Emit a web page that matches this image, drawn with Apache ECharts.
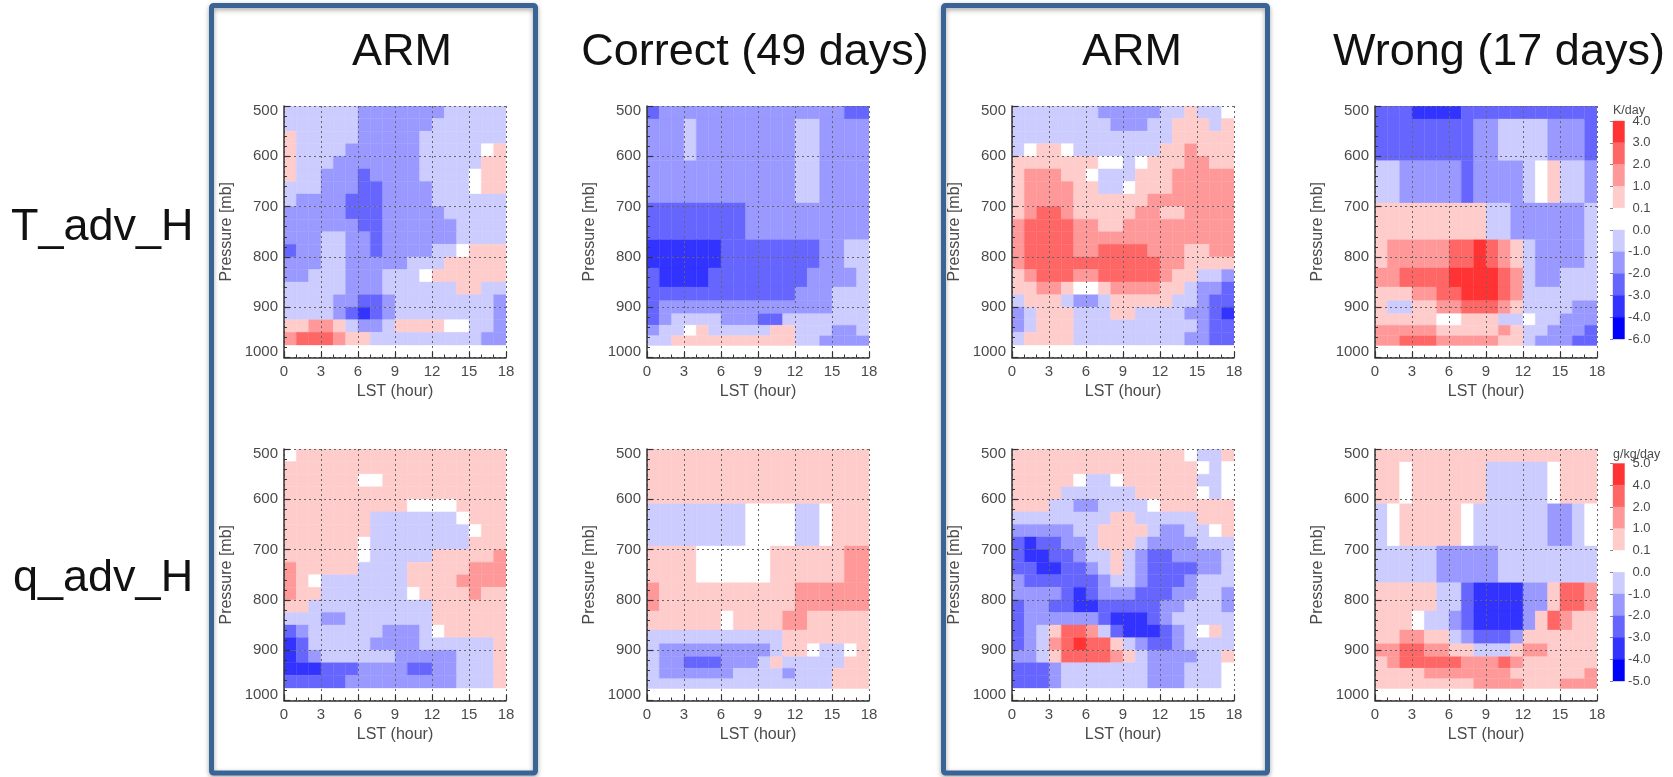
<!DOCTYPE html>
<html><head><meta charset="utf-8">
<script src="https://cdn.jsdelivr.net/npm/echarts@6/dist/echarts.min.js"></script>
<style>html,body{margin:0;padding:0;background:#fff}#c{width:1673px;height:777px;filter:blur(0.5px)}</style>
</head><body><div id="c"></div>
<script>
// Pressure level edges (mb)
const armLevels = [500,525,550,575,600,625,650,675,700,725,750,775,800,825,850,875,900,925,950,975];
const modelLevels = [500,526,609,693,766,822,860,887,913,936,957,976];
// Each number is the colour-bar bin a cell falls in: negative = blue bins, positive = red bins, 0 = white bin
const tAdvArmA = [
[-1,-1,-1,-1,-1,-1,-2,-2,-2,-2,-2,-2,-2,-1,-1,-1,-1,-1],
[-1,-1,-1,-1,-1,-1,-2,-2,-2,-2,-2,-2,-1,-1,-1,-1,-1,-1],
[1,-1,-1,-1,-1,-1,-2,-2,-2,-2,-2,-1,-1,-1,-1,-1,-1,-1],
[1,-1,-1,-1,-1,-2,-2,-2,-2,-2,-2,-1,-1,-1,-1,-1,0,1],
[1,-1,-1,-1,-2,-2,-2,-2,-2,-2,-2,-1,-1,-1,-1,-1,1,1],
[1,-1,-1,-2,-2,-2,-3,-2,-2,-2,-2,-1,-1,-1,-1,0,1,1],
[-1,-1,-1,-2,-2,-2,-3,-3,-2,-2,-2,-2,-1,-1,-1,0,1,1],
[-1,-2,-2,-2,-2,-3,-3,-3,-2,-2,-2,-2,-1,-1,-1,-1,-1,-1],
[-2,-2,-2,-2,-2,-3,-3,-3,-2,-2,-2,-2,-2,-1,-1,-1,-1,-1],
[-2,-2,-2,-2,-2,-2,-3,-3,-2,-2,-2,-2,-2,-2,-1,-1,-1,-1],
[-2,-2,-2,-1,-1,-2,-2,-3,-2,-2,-2,-2,-2,-2,-1,-1,-1,-1],
[-3,-2,-2,-1,-1,-2,-2,-3,-2,-2,-2,-2,-1,-1,0,1,1,1],
[-2,-2,-2,-1,-1,-2,-2,-2,-2,-2,-1,-1,-1,1,1,1,1,1],
[-2,-2,-1,-1,-1,-2,-2,-2,-1,-1,-1,0,1,1,1,1,1,1],
[-1,-1,-1,-1,-1,-2,-2,-2,-1,-1,-1,-1,-1,-1,1,1,-1,-1],
[-1,-1,-1,-1,-2,-2,-3,-3,-2,-1,-1,-1,-1,-1,-1,-1,-1,-2],
[-1,-1,-1,-1,-2,-3,-4,-3,-2,-1,-1,-1,-1,-1,-1,-1,-1,-2],
[1,1,2,2,1,-1,-2,-2,-1,1,1,1,1,0,0,-1,-1,-2],
[2,3,3,3,2,1,1,-1,-1,-1,-1,-1,-1,-1,-1,-1,-2,-2]
];
const tAdvCorrect = [
[-3,-2,-2,-2,-2,-2,-2,-2,-2,-2,-2,-2,-2,-2,-2,-2,-3,-3],
[-2,-2,-2,-1,-2,-2,-2,-2,-2,-2,-2,-2,-1,-1,-2,-2,-2,-2],
[-2,-2,-2,-2,-2,-2,-2,-2,-2,-2,-2,-2,-1,-1,-2,-2,-2,-2],
[-3,-3,-3,-3,-3,-3,-3,-3,-2,-2,-2,-2,-2,-2,-2,-2,-2,-2],
[-4,-4,-4,-4,-4,-4,-3,-3,-3,-3,-3,-3,-3,-3,-2,-2,-1,-1],
[-3,-4,-4,-4,-4,-3,-3,-3,-3,-3,-3,-3,-3,-2,-2,-2,-2,-1],
[-3,-3,-3,-3,-3,-3,-3,-3,-3,-3,-3,-3,-2,-2,-2,-1,-1,-1],
[-3,-2,-2,-2,-2,-2,-2,-2,-2,-2,-2,-2,-2,-2,-2,-1,-1,-1],
[-3,-2,-1,-1,-1,-1,-2,-2,-2,-3,-3,-1,-1,-1,-1,-1,-1,-1],
[-2,-1,-1,0,1,-1,-1,-1,-1,-1,1,1,-1,-1,-1,-2,-2,-1],
[-1,-1,1,1,1,1,1,1,1,1,1,1,-1,-1,-2,-2,-2,-2]
];
const tAdvArmB = [
[-1,-1,-1,-1,-1,-1,-1,-2,-2,-2,-2,-2,-1,-1,1,-1,-1,0],
[-1,-1,-1,-1,-1,-1,-1,-1,-2,-2,-2,-1,-1,1,1,1,-1,1],
[-1,-1,-1,-1,-1,-1,-1,-1,-1,-1,-1,-1,-1,1,1,1,1,1],
[-1,0,1,1,0,-1,-1,-1,-1,-1,-1,-1,1,1,2,1,1,1],
[1,1,1,1,1,1,1,0,0,-1,0,1,1,1,2,2,1,1],
[1,2,2,2,1,1,0,-1,-1,-1,1,1,1,2,2,2,2,2],
[1,2,2,2,2,1,1,-1,-1,0,1,1,1,2,2,2,2,2],
[1,2,2,2,2,1,1,1,1,1,1,2,2,2,2,2,2,2],
[1,2,3,3,2,1,1,1,1,1,2,2,1,1,2,2,2,2],
[2,3,3,3,3,2,2,1,1,2,2,2,2,2,2,2,2,2],
[2,3,3,3,3,2,2,2,2,2,2,2,2,2,2,2,2,2],
[2,3,3,3,3,2,2,3,3,3,3,2,2,2,1,1,2,2],
[2,3,3,3,3,3,3,3,3,3,3,3,2,2,1,1,1,1],
[1,2,3,3,3,2,2,3,3,3,3,3,2,1,1,-1,-1,-2],
[1,1,2,2,1,0,0,1,2,2,2,2,1,1,-1,-2,-2,-3],
[-1,1,1,1,-1,-2,-2,-1,1,1,1,1,1,-1,-1,-2,-3,-3],
[-2,-1,1,1,1,-1,-1,-1,1,1,-1,-1,-1,-1,-2,-2,-3,-4],
[-2,-1,1,1,1,-1,-1,-1,-1,-1,-1,-1,-1,-1,-1,-2,-3,-3],
[-1,1,1,1,1,-1,-1,-1,-1,-1,-1,-1,-1,-1,-2,-2,-3,-3]
];
const tAdvWrong = [
[-3,-3,-3,-4,-4,-4,-4,-3,-3,-3,-3,-3,-3,-3,-3,-3,-3,-3],
[-3,-3,-3,-3,-3,-3,-3,-3,-2,-2,-1,-1,-1,-1,-2,-2,-2,-3],
[-1,-1,-2,-2,-2,-2,-2,-3,-2,-2,-2,-2,-1,0,1,-1,-1,-2],
[1,1,1,1,1,1,1,1,1,-1,-1,-2,-2,-2,-2,-2,-2,-1],
[1,2,2,2,2,2,3,3,4,3,2,1,-1,-2,-2,-2,-2,-1],
[2,2,3,3,3,3,4,4,4,4,3,2,-1,-2,-2,-1,-1,-1],
[1,1,1,2,2,3,3,4,4,4,3,2,-1,-1,-1,-1,-1,-1],
[1,-1,-1,1,1,2,2,3,3,3,2,1,-1,-1,-1,-1,-2,-2],
[1,1,1,1,1,0,0,1,1,1,-1,-1,0,-1,-1,-2,-2,-2],
[2,2,2,2,2,1,1,1,1,1,2,1,-1,-1,-2,-2,-2,-3],
[2,2,3,3,3,2,2,2,2,2,1,1,-1,-2,-2,-2,-3,-3]
];
const qAdvArmA = [
[0,1,1,1,1,1,1,1,1,1,1,1,1,1,1,1,1,1],
[1,1,1,1,1,1,1,1,1,1,1,1,1,1,1,1,1,1],
[1,1,1,1,1,1,0,0,1,1,1,1,1,1,1,1,1,1],
[1,1,1,1,1,1,1,1,1,1,1,1,1,1,1,1,1,1],
[1,1,1,1,1,1,1,1,1,1,0,0,0,0,1,1,1,1],
[1,1,1,1,1,1,1,-1,-1,-1,-1,-1,-1,-1,0,1,1,1],
[1,1,1,1,1,1,1,-1,-1,-1,-1,-1,-1,-1,-1,0,1,1],
[1,1,1,1,1,1,0,-1,-1,-1,-1,-1,-1,-1,-1,1,1,1],
[1,1,1,1,1,1,0,-1,-1,-1,-1,-1,1,1,1,1,1,2],
[2,1,1,1,1,1,-1,-1,-1,-1,1,1,1,1,1,2,2,2],
[2,1,0,-1,-1,-1,-1,-1,-1,-1,1,1,1,1,2,2,2,2],
[2,1,1,-1,-1,-1,-1,-1,-1,-1,0,1,1,1,1,2,1,1],
[1,1,-1,-1,-1,-1,-1,-1,-1,-1,-1,-1,1,1,1,1,1,1],
[-1,-1,-1,-2,-2,-1,-1,-1,-1,-1,-1,-1,1,1,1,1,1,1],
[-3,-2,-1,-1,-1,-1,-1,-1,-2,-2,-2,-1,0,1,1,1,1,1],
[-4,-3,-1,-1,-1,-1,-1,-2,-2,-2,-2,-1,-1,-1,-1,-1,-1,1],
[-4,-3,-2,-1,-1,-1,-1,-1,-1,-2,-2,-2,-2,-2,-1,-1,-1,1],
[-4,-4,-4,-3,-3,-3,-2,-2,-2,-2,-3,-3,-2,-2,-1,-1,-1,1],
[-3,-3,-3,-3,-3,-2,-2,-2,-2,-2,-2,-2,-2,-2,-1,-1,-1,1]
];
const qAdvCorrect = [
[1,1,1,1,1,1,1,1,1,1,1,1,1,1,1,1,1,1],
[1,1,1,1,1,1,1,1,1,1,1,1,1,1,1,1,1,1],
[-1,-1,-1,-1,-1,-1,-1,-1,0,0,0,0,-1,-1,0,1,1,1],
[1,1,1,1,0,0,0,0,0,0,1,1,1,1,1,1,2,2],
[2,1,1,1,1,1,1,1,1,1,1,1,2,2,2,2,2,2],
[1,1,1,1,1,1,0,1,1,1,1,2,2,1,1,1,1,1],
[-1,-1,-1,-1,-1,-1,-1,-1,-1,-1,-1,1,1,1,1,1,1,1],
[-1,-2,-2,-2,-2,-2,-2,-2,-2,-2,-1,1,1,0,-1,-1,0,1],
[-1,-2,-2,-3,-3,-3,-2,-2,-2,-1,1,-1,-1,-1,-1,-1,1,1],
[-1,-2,-2,-2,-2,-2,-2,-1,-1,-1,-1,-2,-1,-1,-1,1,1,1],
[-1,-1,-1,-1,-1,-1,-1,-1,-1,-1,-1,-1,-1,-1,-1,1,1,1]
];
const qAdvArmB = [
[1,1,1,1,1,1,1,1,1,1,1,1,1,1,0,-1,-1,1],
[1,1,1,1,1,1,1,1,1,1,1,1,1,1,1,0,-1,0],
[1,1,1,1,1,0,-1,-1,0,1,1,1,1,1,1,-1,-1,0],
[1,1,1,1,-1,-1,-1,-1,-1,-1,1,1,1,1,1,0,-1,0],
[1,1,1,-1,-1,-2,-2,-1,-1,-1,-1,0,1,1,1,1,1,1],
[-1,-1,-1,-1,-1,-1,-1,-1,1,1,-1,-1,-1,-1,-1,1,1,1],
[-2,-2,-2,-2,-2,-1,-1,1,1,1,1,-1,-2,-2,-1,-1,0,1],
[-3,-4,-3,-3,-2,-2,-1,1,1,1,-1,-2,-2,-2,-2,-1,-1,-1],
[-3,-4,-4,-3,-3,-2,-1,-1,1,-1,-2,-3,-3,-2,-2,-2,-2,-1],
[-3,-3,-4,-4,-3,-3,-2,-1,1,-1,-2,-3,-3,-3,-3,-2,-2,-1],
[-2,-3,-3,-3,-3,-3,-3,-2,-1,-1,-2,-3,-3,-3,-2,-1,-1,-1],
[-2,-2,-2,-2,-3,-4,-3,-2,-2,-2,-3,-3,-3,-2,-2,-1,-1,-2],
[-3,-2,-2,-3,-3,-4,-4,-3,-3,-3,-3,-3,-2,-2,-1,-1,-1,-2],
[-3,-2,-2,-2,-2,-2,-2,-3,-4,-4,-4,-3,-2,-1,-1,-1,-1,-1],
[-3,-2,-1,1,3,3,2,-1,-3,-4,-4,-4,-3,-2,-1,0,1,-1],
[-3,-2,-1,2,3,4,3,3,1,-1,-2,-3,-3,-2,-1,-1,-1,-1],
[-2,-2,-1,1,3,3,3,3,2,1,-1,-2,-2,-2,-2,-1,-1,1],
[-3,-3,-3,-2,-1,-1,-1,-1,-1,-1,-1,-2,-2,-2,-1,-1,-1,0],
[-3,-3,-3,-2,-1,-1,-1,-1,-1,-1,-1,-2,-2,-2,-1,-1,-1,0]
];
const qAdvWrong = [
[1,1,1,1,1,1,1,1,1,1,1,1,1,1,1,1,1,1],
[1,1,0,1,1,1,1,1,1,-1,-1,-1,-1,-1,0,1,1,1],
[-1,0,1,1,1,1,1,0,-1,-1,-1,-1,-1,-1,-2,-2,-1,0],
[-1,-1,-1,-1,-1,-2,-2,-2,-2,-2,-1,-1,-1,-1,-1,-1,-1,-1],
[1,1,1,1,1,-1,-1,-3,-4,-4,-4,-4,-2,-2,1,3,3,2],
[1,1,1,0,-1,-1,-2,-3,-4,-4,-4,-4,-2,1,3,2,1,1],
[1,1,2,2,1,1,-1,-2,-3,-3,-3,-2,1,1,1,1,1,1],
[2,2,3,3,2,2,1,1,-1,-1,-1,1,2,2,1,1,1,1],
[1,2,3,3,3,3,3,2,2,2,3,2,1,1,1,1,1,1],
[1,1,1,1,2,2,2,2,2,2,2,1,1,1,1,1,1,2],
[1,1,1,1,1,1,1,1,2,2,2,2,1,1,1,2,2,2]
];
// Colour bars
const tBarLabels = ['4.0','3.0','2.0','1.0','0.1','0.0','-1.0','-2.0','-3.0','-4.0','-6.0'];
const qBarLabels = ['5.0','4.0','2.0','1.0','0.1','0.0','-1.0','-2.0','-3.0','-4.0','-5.0'];
const barBins = [4,3,2,1,0,-1,-2,-3,-4,-5];
const binColors = {'4':'#ff3333','3':'#ff6666','2':'#ff9999','1':'#ffcccc','0':'#ffffff','-1':'#ccccff','-2':'#9999ff','-3':'#6666ff','-4':'#3333ff','-5':'#0000ff'};

const panels = [
  {rows:tAdvArmA,levels:armLevels,left:284,top:106},
  {rows:tAdvCorrect,levels:modelLevels,left:647,top:106},
  {rows:tAdvArmB,levels:armLevels,left:1012,top:106},
  {rows:tAdvWrong,levels:modelLevels,left:1375,top:106},
  {rows:qAdvArmA,levels:armLevels,left:284,top:449},
  {rows:qAdvCorrect,levels:modelLevels,left:647,top:449},
  {rows:qAdvArmB,levels:armLevels,left:1012,top:449},
  {rows:qAdvWrong,levels:modelLevels,left:1375,top:449}
];
const bars = [
  {labels:tBarLabels,top:121,height:218,unit:'K/day',unitY:111},
  {labels:qBarLabels,top:463.5,height:217.5,unit:'g/kg/day',unitY:454.5}
];
const textColor = '#4a4a4a', font = '"Liberation Sans",Arial,sans-serif';

function renderCell(params, api){
  const a = api.coord([api.value(0), api.value(2)]);
  const b = api.coord([api.value(1), api.value(3)]);
  const fill = binColors[String(api.value(4))];
  return {type:'rect', shape:{x:a[0],y:a[1],width:b[0]-a[0],height:b[1]-a[1]},
    style:{fill:fill, stroke:fill, lineWidth:0.4}};
}
const grid=[], xAxis=[], yAxis=[], series=[];
panels.forEach((p,i)=>{
  grid.push({left:p.left, top:p.top, width:222, height:251.5});
  const labelStyle = {color:textColor,fontFamily:font,fontSize:15};
  const dot = {show:true,lineStyle:{color:'#666',width:1,type:[2,3]}};
  const edgeText = {fontFamily:font,fontSize:15,color:textColor};
  xAxis.push({gridIndex:i,type:'value',min:0,max:18,interval:3,z:10,
    axisLine:{show:true,onZero:false,lineStyle:{color:'#333',width:1.5}},
    axisTick:{show:true,inside:true,length:6,lineStyle:{color:'#333',width:1.2}},
    minorTick:{show:true,splitNumber:3,length:3,lineStyle:{color:'#333',width:1}},
    splitLine:dot,
    axisLabel:{...labelStyle,margin:7,showMinLabel:true,showMaxLabel:true},
    name:'LST (hour)',nameLocation:'middle',nameGap:26,
    nameTextStyle:{color:textColor,fontFamily:font,fontSize:16}});
  yAxis.push({gridIndex:i,type:'value',min:500,max:1000,interval:100,inverse:true,z:10,
    axisLine:{show:true,onZero:false,lineStyle:{color:'#333',width:1.5}},
    axisTick:{show:true,inside:true,length:6,lineStyle:{color:'#333',width:1.2}},
    minorTick:{show:true,splitNumber:5,length:3,lineStyle:{color:'#333',width:1}},
    splitLine:dot,
    axisLabel:{...labelStyle,margin:6,showMinLabel:true,showMaxLabel:true,
      formatter:(v)=> v===500 ? '{low|500}' : v===1000 ? '{high|1000}' : String(v),
      rich:{low:{...edgeText,padding:[9.5,0,0,0]},high:{...edgeText,padding:[0,0,10.5,0]}}},
    name:'Pressure [mb]',nameLocation:'middle',nameGap:49,nameRotate:90,
    nameTextStyle:{color:textColor,fontFamily:font,fontSize:16}});
  const data=[];
  p.rows.forEach((row,r)=>row.forEach((v,c)=>{
    data.push([c,c+1,p.levels[r],p.levels[r+1]!==undefined?p.levels[r+1]:p.levels[r],v]);
  }));
  series.push({type:'custom',xAxisIndex:i,yAxisIndex:i,renderItem:renderCell,silent:true,
    encode:{x:[0,1],y:[2,3]},clip:true,data:data,animation:false});
});
bars.forEach((b,j)=>{
  const i=panels.length+j;
  grid.push({left:1613,top:b.top,width:11.5,height:b.height});
  xAxis.push({gridIndex:i,type:'value',min:0,max:1,show:false});
  yAxis.push({gridIndex:i,type:'value',min:0,max:10,interval:1,inverse:true,position:'right',z:10,
    axisLine:{show:false},splitLine:{show:false},
    axisTick:{show:true,inside:true,length:3,lineStyle:{color:'#888',width:1}},
    axisLabel:{color:textColor,fontFamily:font,fontSize:13,align:'right',margin:26,padding:[4,0,0,0],
      formatter:(v)=>b.labels[v]}});
  series.push({type:'custom',xAxisIndex:i,yAxisIndex:i,renderItem:renderCell,silent:true,
    encode:{x:[0,1],y:[2,3]},animation:false,
    data:barBins.map((v,k)=>[0,1,k,k+1,v])});
});
const txt=(t,x,y,size,align,color)=>({type:'text',x:x,y:y,z:20,silent:true,
  style:{text:t,fill:color||'#111',font:size+'px '+font,textAlign:align||'center',textVerticalAlign:'middle'}});
const box=(x,y,w,h)=>({type:'rect',z:1,silent:true,shape:{x:x,y:y,width:w,height:h,r:2},
  style:{fill:'none',stroke:'#3a6496',lineWidth:5,shadowColor:'rgba(0,0,0,0.35)',shadowBlur:5,shadowOffsetY:2}});
const graphic=[
  box(211.5,5.5,324,767.5),
  box(943.5,5.5,324,767.5),
  txt('ARM',402,53,45),
  txt('Correct (49 days)',755,53,45),
  txt('ARM',1132,53,45),
  txt('Wrong (17 days)',1499,53,45),
  txt('T_adv_H',11,228,45,'left'),
  txt('q_adv_H',13,579,45,'left')
];
bars.forEach(b=>graphic.push(txt(b.unit,1613,b.unitY,12.5,'left',textColor)));
const chart=echarts.init(document.getElementById('c'),null,{renderer:'canvas'});
chart.setOption({animation:false,backgroundColor:'#fff',grid,xAxis,yAxis,series,graphic});
</script>
</body></html>
